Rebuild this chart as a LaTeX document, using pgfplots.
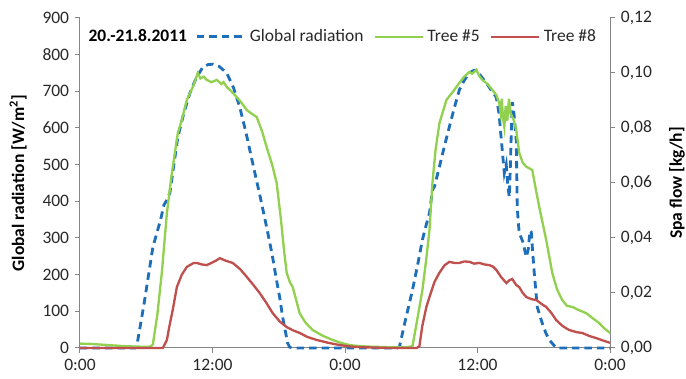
\documentclass[border=0pt]{standalone}
\usepackage{pgfplots}
\pgfplotsset{compat=1.18}
\usepackage{fontspec}
\setmainfont{Carlito}
\definecolor{gblue}{RGB}{30,110,185}
\definecolor{tgreen}{RGB}{146,208,80}
\definecolor{tred}{RGB}{192,80,77}
\definecolor{axgray}{RGB}{134,134,134}
\definecolor{txt}{RGB}{40,40,40}
\pgfplotsset{
  common/.style={
    width=318pt, height=198pt, scale only axis,
    xmin=0, xmax=48,
    axis line style={axgray, line width=0.6pt},
    tick style={axgray, line width=0.6pt},
    major tick length=3pt,
    tick align=outside,
    ticklabel style={font=\fontsize{10.5}{12}\selectfont, text=txt},
    /pgf/number format/assume math mode=true,
    label style={font=\fontsize{10.5}{12}\selectfont\bfseries, text=black},
    clip=false,
  }
}
\begin{document}
\begin{tikzpicture}
\begin{axis}[common, name=ax,
  ymin=0, ymax=900,
  axis x line*=bottom, axis y line*=left,
  xtick={0,12,24,36,48},
  xticklabels={0:00,12:00,0:00,12:00,0:00},
  ytick={0,100,...,900},
  ylabel={Global radiation [W/m\textsuperscript{2}]},
  ylabel style={yshift=2.6pt},
]
\addplot[gblue, line width=1.7pt, dash pattern=on 4.5pt off 3pt] coordinates {
(0,0) (5.0,0) (5.13,3) (5.8,120) (6.6,275) (7.3,350) (7.6,390) (7.8,400) (8.14,423)
(8.5,500) (8.86,575) (9.4,640) (9.95,695) (10.5,735) (11.12,766) (11.6,773) (12.03,774)
(12.6,768) (13.29,750) (13.9,710) (14.47,657) (15.05,585) (15.64,504) (16.3,415) (16.9,330)
(17.4,255) (17.8,185) (18.1,135) (18.35,85) (18.6,45) (18.8,14) (19.0,2) (19.5,0)
(28.7,0) (28.93,3) (29.5,80) (30.11,158) (30.6,230) (31.01,295) (31.35,335) (31.65,368)
(31.92,431) (32.1,440) (32.55,494) (33.0,550) (33.45,603) (33.9,655) (34.36,704) (34.8,730)
(35.26,750) (35.6,756) (35.9,758) (36.3,742) (36.8,723) (37.2,705) (37.7,684) (37.95,640)
(38.16,567) (38.3,520) (38.43,477) (38.6,500) (38.75,440) (38.88,412) (38.98,500) (39.06,586)
(39.15,671) (39.3,640) (39.51,567) (39.6,385) (39.7,340) (39.78,314) (40.1,290) (40.42,248)
(40.6,270) (40.75,320) (40.87,316) (41.0,260) (41.14,205) (41.41,112) (41.86,68) (42.2,40)
(42.5,22) (43.13,0) (48,0)
};
\node[anchor=west, font=\fontsize{10.5}{12}\selectfont\bfseries] at (rel axis cs:0.005,0.948) {20.-21.8.2011};
\end{axis}
\begin{axis}[common,
  ymin=0, ymax=0.12,
  axis y line*=right, axis x line=none,
  ytick={0,0.02,...,0.12},
  yticklabel style={/pgf/number format/.cd, fixed, fixed zerofill, precision=2, use comma},
  scaled y ticks=false,
  ylabel={Spa flow [kg/h]},
  ylabel style={yshift=-3.5pt},
  legend style={draw=none, fill=none, at={(rel axis cs:0.99,0.943)}, anchor=east,
    font=\fontsize{10.5}{12}\selectfont, text=txt, /tikz/every even column/.append style={column sep=4pt}},
  legend columns=-1,
  legend image code/.code={\draw[#1] (0pt,0pt) -- (29pt,0pt);},
]
\addlegendimage{gblue, line width=1.7pt, dash pattern=on 4.5pt off 3pt}
\addlegendentry{Global radiation}
\addplot[tgreen, line width=1.4pt] coordinates {
(0,0.0016) (1,0.00147) (2,0.0012) (3,0.00093) (4,0.00067) (5,0.00053) (6,0.0004) (6.4,0.00053)
(6.6,0.00133) (7.0,0.012) (7.41,0.02733) (7.87,0.04907) (8.32,0.0636) (8.86,0.07813) (9.2,0.08267)
(9.67,0.09013) (10.22,0.09493) (10.67,0.1) (10.9,0.098) (11.2,0.09867) (11.48,0.09747) (11.9,0.09667)
(12.39,0.09747) (12.8,0.096) (13.0,0.09667) (13.29,0.09493) (13.7,0.09333) (14.2,0.0912) (14.6,0.08933)
(15.1,0.08653) (15.5,0.08533) (16.0,0.084) (16.5,0.07867) (16.9,0.07307) (17.4,0.06667) (17.81,0.06)
(18.2,0.04667) (18.5,0.03467) (18.72,0.02733) (19.0,0.024) (19.26,0.02213) (19.5,0.01867) (19.89,0.01267)
(20.4,0.00933) (21.07,0.00653) (22.0,0.0044) (22.88,0.00293) (23.6,0.00187) (24.4,0.00107) (25,0.0008)
(26,0.00053) (27,0.0004) (28,0.00027) (29,0.00027) (29.6,0.00027) (30.11,0.00067) (30.5,0.00933)
(31.01,0.02107) (31.35,0.032) (31.65,0.04293) (31.92,0.06) (32.2,0.072) (32.55,0.08173) (33.18,0.09013)
(33.8,0.09333) (34.36,0.0964) (34.8,0.09867) (35.26,0.1004) (35.5,0.09973) (35.9,0.10107) (36.2,0.09867)
(36.44,0.09747) (36.9,0.096) (37.34,0.09387) (37.7,0.092) (37.97,0.08907) (38.1,0.08533) (38.2,0.09067)
(38.3,0.084) (38.43,0.0804) (38.55,0.088) (38.7,0.08267) (38.85,0.09067) (39.0,0.08533) (39.15,0.084)
(39.3,0.08267) (39.51,0.07933) (39.78,0.07093) (40.1,0.06733) (40.42,0.06587) (40.7,0.06533) (40.96,0.06467)
(41.3,0.05733) (41.59,0.05133) (42.22,0.03933) (42.77,0.02733) (43.2,0.02133) (43.67,0.01747) (44.1,0.01533)
(44.58,0.01493) (45.2,0.01373) (45.84,0.01267) (46.4,0.01093) (47.02,0.00907) (47.5,0.00707) (48,0.00547)
};
\addlegendentry{Tree \#5}
\addplot[tred, line width=1.4pt] coordinates {
(0,0) (7.5,0) (7.87,0.00293) (8.1,0.008) (8.4,0.01387) (8.77,0.02213) (9.22,0.02667) (9.67,0.02947)
(9.95,0.03013) (10.3,0.03093) (10.58,0.03093) (11.0,0.0304) (11.48,0.03013) (11.9,0.03093) (12.3,0.03173)
(12.66,0.03267) (13.2,0.03173) (13.83,0.03093) (14.5,0.02867) (15.1,0.02587) (15.7,0.02293) (16.27,0.02)
(16.9,0.01627) (17.45,0.01267) (18.1,0.0096) (18.72,0.0076) (19.3,0.0064) (19.89,0.00547) (20.6,0.004)
(21.43,0.00293) (22.5,0.00187) (23.5,0.00107) (24.5,0.00053) (25.5,0.00027) (27,0.00013) (28,0)
(30.5,0) (30.74,0.00067) (31.0,0.008) (31.37,0.01493) (31.65,0.01853) (32.1,0.024) (32.55,0.02733)
(33.0,0.03) (33.45,0.03133) (33.9,0.03093) (34.36,0.03093) (34.8,0.03147) (35.26,0.03133) (35.7,0.03067)
(36.17,0.03093) (36.6,0.0304) (37.07,0.03013) (37.4,0.0296) (37.7,0.0284) (38.1,0.026) (38.61,0.0236)
(38.9,0.02467) (39.15,0.02507) (39.5,0.02293) (39.78,0.02213) (40.1,0.02) (40.42,0.01853) (40.9,0.01773)
(41.32,0.01747) (41.8,0.016) (42.22,0.01493) (42.7,0.01267) (43.13,0.01013) (43.7,0.008) (44.3,0.00653)
(45.0,0.00573) (45.48,0.00547) (46.1,0.0044) (46.75,0.0036) (47.4,0.00267) (48,0.00187)
};
\addlegendentry{Tree \#8}
\end{axis}
\pgfresetboundingbox
\path ([xshift=-48pt,yshift=-18.6pt]ax.south west) rectangle ([xshift=45.6pt,yshift=10.8pt]ax.north east);
\end{tikzpicture}
\end{document}
